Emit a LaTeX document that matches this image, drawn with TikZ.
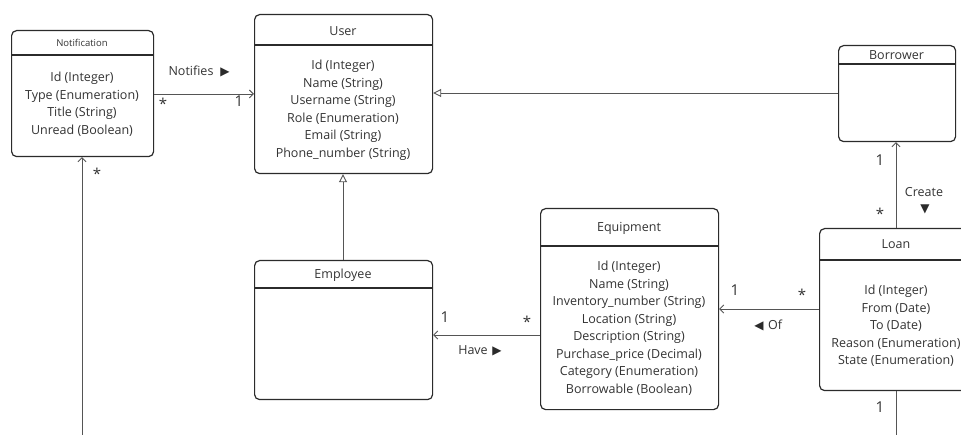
\documentclass[tikz,border=0pt]{standalone}
\usepackage{fontspec}
\setmainfont{Open Sans}
\newfontfamily\symfont{DejaVu Sans}
\usetikzlibrary{arrows.meta}
\definecolor{ink}{HTML}{2B2B2B}
\definecolor{txt}{HTML}{333333}
\definecolor{wire}{HTML}{555555}
\tikzset{
  cls/.style={draw=ink, line width=1.2pt, rounded corners=5pt, fill=white, inner sep=0pt},
  sep/.style={draw=ink, line width=1.1pt},
  title/.style={text=txt, font=\fontsize{12.5}{14}\selectfont, inner sep=0pt},
  smalltitle/.style={text=txt, font=\fontsize{9.5}{11}\selectfont, inner sep=0pt},
  attrs/.style={text=txt, align=center, font=\fontsize{12.5}{17.5}\selectfont, inner sep=0pt},
  assoc/.style={draw=wire, line width=0.9pt, -{Straight Barb[length=4pt,width=8pt]}},
  gen/.style={draw=wire, line width=0.9pt, -{Triangle[open,length=8pt,width=8pt,fill=white]}},
  plain/.style={draw=wire, line width=0.9pt},
  mult/.style={text=txt, font=\fontsize{15}{17}\selectfont, inner sep=0pt},
  lbl/.style={text=txt, font=\fontsize{12.5}{14}\selectfont, inner sep=0pt},
  tri/.style={text=ink, font=\symfont\fontsize{12}{14}\selectfont, inner sep=0pt},
}
\begin{document}
\begin{tikzpicture}[x=1pt,y=-1pt]
\useasboundingbox (0,0) rectangle (961,435);
\clip (0,0) rectangle (961,435);

% ---- classes ----
% Notification
\node[cls, minimum width=142, minimum height=126, anchor=north west] (notif) at (11,30) {};
\draw[sep] (11,55) -- (153,55);
\node[smalltitle] (notifT) at (82,43) {Notification};
\node[attrs, anchor=north] (notifA) at (82,72) {Id (Integer)\\Type (Enumeration)\\Title (String)\\Unread (Boolean)};

% User
\node[cls, minimum width=178, minimum height=159, anchor=north west] (user) at (254,14) {};
\draw[sep] (254,45) -- (432,45);
\node[title] (userT) at (343,31) {User};
\node[attrs, anchor=north] (userA) at (343,60) {Id (Integer)\\Name (String)\\Username (String)\\Role (Enumeration)\\Email (String)\\Phone\_number (String)};

% Borrower
\node[cls, minimum width=117, minimum height=96, anchor=north west] (borrower) at (838,45) {};
\draw[sep] (838,64) -- (955,64);
\node[title] (borrowerT) at (896.5,55) {Borrower};

% Employee
\node[cls, minimum width=178, minimum height=139, anchor=north west] (employee) at (254,260) {};
\draw[sep] (254,288) -- (432,288);
\node[title] (employeeT) at (343,275) {Employee};

% Equipment
\node[cls, minimum width=178, minimum height=201, anchor=north west] (equip) at (540,208) {};
\draw[sep] (540,246) -- (718,246);
\node[title] (equipT) at (629,228) {Equipment};
\node[attrs, anchor=north] (equipA) at (629,261) {Id (Integer)\\Name (String)\\Inventory\_number (String)\\Location (String)\\Description (String)\\Purchase\_price (Decimal)\\Category (Enumeration)\\Borrowable (Boolean)};

% Loan
\node[cls, minimum width=154, minimum height=162, anchor=north west] (loan) at (819,228) {};
\draw[sep] (819,260) -- (973,260);
\node[title] (loanT) at (896,244) {Loan};
\node[attrs, anchor=north] (loanA) at (896,285) {Id (Integer)\\From (Date)\\To (Date)\\Reason (Enumeration)\\State (Enumeration)};

% ---- free ends of connectors leaving the picture ----
\coordinate (notifTail) at (82,435);
\coordinate (loanTail) at (896,435);

% ---- connectors ----
\draw[assoc] (notif.east |- 0,94) -- (user.west |- 0,94);
\draw[gen] (borrower.west |- 0,93) -- (user.east |- 0,93);
\draw[gen] (employee.north -| 343,0) -- (user.south -| 343,0);
\draw[assoc] (equip.west |- 0,335) -- (employee.east |- 0,335);
\draw[assoc] (loan.west |- 0,309) -- (equip.east |- 0,309);
\draw[assoc] (loan.north -| 896,0) -- (borrower.south -| 896,0);
\draw[plain] (loan.south -| 896,0) -- (loanTail);
\draw[assoc] (notifTail) -- (notif.south -| 82,0);

% ---- association labels and multiplicities ----
\node[lbl] (notifiesL) at (191,71) {Notifies};
\node[tri] (notifiesT) at (225,72) {▶};
\node[mult] (m1) at (163,104) {*};
\node[mult] (m2) at (239,101) {1};

\node[mult] (m3) at (445,317) {1};
\node[mult] (m4) at (527,322) {*};
\node[lbl] (haveL) at (473,350) {Have};
\node[tri] (haveT) at (497,351) {▶};

\node[mult] (m5) at (735,290) {1};
\node[mult] (m6) at (802,295) {*};
\node[tri] (ofT) at (759,326) {◀};
\node[lbl] (ofL) at (775,325) {Of};

\node[mult] (m7) at (880,160) {1};
\node[mult] (m8) at (880,214) {*};
\node[lbl] (createL) at (924,192) {Create};
\node[tri] (createT) at (925,209) {▼};

\node[mult] (m9) at (880,407) {1};
\node[mult] (m10) at (97,174) {*};
\end{tikzpicture}
\end{document}
